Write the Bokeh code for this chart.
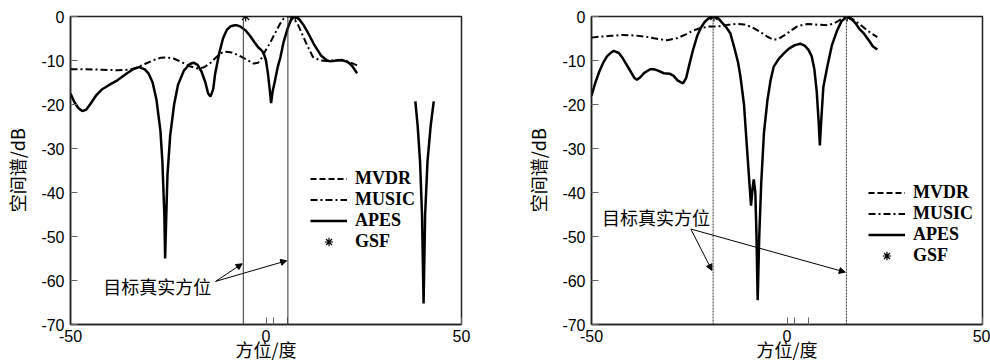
from bokeh.plotting import figure
from bokeh.layouts import row
from bokeh.models import Range1d, FixedTicker, Span, Label, Arrow, NormalHead, Legend, LegendItem
from bokeh.embed import file_html
from bokeh.resources import INLINE

nan = float("nan")

# ---------------- data: left panel ----------------
apes1_x = [-50, -49, -48, -47, -46, -45, -43.5, -42, -40, -38, -36, -34, -32.5, -31, -30, -29, -28, -27,
           -26.5, -26, -25.8, -25.5, -25.2, -24.5, -23.5, -22.5, -21, -19.5, -18.5, -17.5, -16.5, -15.5,
           -14.8, -14.2, -13.5, -13, -12, -11, -10, -9, -8, -7.4, -6.5, -5.2, -4, -3, -2, -1, -0.5, 0,
           0.5, 1.0, 1.3, 1.7, 2.2, 3, 3.7, 4.5, 5.5, 6.5, 7.5, 8.5, 9.5, 10.5, 12.2, 14, 15.6, 16.5,
           18, 19.5, 21, 22, 23.3]
apes1_y = [-17.5, -19.5, -20.8, -21.5, -21.2, -20.0, -18.0, -16.6, -15.5, -14.5, -13.2, -12.0, -11.5, -12.0,
           -13.0, -15.0, -19.0, -26.0, -33, -45, -55, -45, -36, -27, -20, -15.5, -12.3, -10.8, -10.5,
           -11.0, -12.5, -15, -17.5, -18.2, -16.5, -13, -8.5, -5, -3, -2.2, -2.0, -2.0, -2.3, -3.2, -4.5,
           -5.8, -7.0, -7.8, -8.6, -10, -13, -17, -19.7, -17, -15, -11.5, -9.2, -5.8, -2.8, -0.5, 0,
           -0.6, -1.8, -3.3, -6.2, -8.8, -10, -10.2, -10, -9.9, -10.4, -11.2, -12.9]
apes1b_x = [38.2, 38.8, 39.4, 39.9, 40.3, 40.7, 41.3, 42.1, 42.9]
apes1b_y = [-19.3, -25, -33, -45, -65.2, -45, -33, -25, -19.3]

music1_x = [-50, -46, -42, -38, -35, -33, -31, -29, -27, -25.3, -23.5, -21.5, -19.5, -17.6, -16, -14.5,
            -13, -11.8, -10.8, -9.1, -7, -5, -3.1, -2, -1, -0.1, 1.1, 2.5, 3.5, 4.5, 5.5, 6.3, 7,
            8, 9, 10.5, 12, 13.9, 15.5, 17, 18.5, 20, 21.5, 23.3]
music1_y = [-12, -12, -12.1, -12.2, -12.1, -11.6, -10.8, -10.0, -9.4, -9.3, -9.6, -10.4, -11.3, -11.8,
            -11.6, -10.8, -9.5, -8.5, -8.0, -8.1, -8.8, -9.8, -10.7, -10.5, -9.3, -7.7, -5.9, -3.5,
            -1.8, -0.5, 0, 0, -0.4, -1.5, -3.5, -6.5, -9.2, -10.0, -10.1, -10.0, -9.9, -10.0, -10.4, -11.1]

# MVDR is listed in the legend but its curve is not visible in the figure
mvdr1_x = [nan]
mvdr1_y = [nan]

gsf1_x = [-5.2, 7.5]
gsf1_y = [0, 0]
true1 = [-5.8, 5.6]

# ---------------- data: right panel ----------------
apes2_x = [-50, -49, -48, -47, -46, -45, -44.3, -43, -42, -41, -40, -39, -38.4, -37.5, -36.5, -35, -34,
           -33, -31.5, -30, -29, -28, -26.6, -25.8, -25, -24, -23, -22, -21, -20, -18.7, -17.5, -16.5,
           -15.5, -14.5, -13.5, -12.5, -11.9, -11, -10.2, -9.6, -9.2, -8.8, -8.5, -8.1, -7.8, -7.5,
           -7.1, -6.6, -5.9, -5, -4.2, -3.4, -2, -0.8, 0.5, 2, 3.4, 4.5, 5.5, 6.3, 7, 7.6, 8.1, 8.4,
           8.8, 9.3, 10.3, 11.5, 12.8, 14, 15.4, 16.5, 17.5, 18.5, 19.7, 21, 22, 23.1]
apes2_y = [-18, -15, -12.5, -10.5, -9, -8.2, -7.8, -8.3, -9.5, -11, -12.5, -14, -14.4, -13.8, -12.8, -12,
           -12, -12.3, -12.9, -13, -13.5, -14.5, -15.2, -14, -11, -7.5, -4.5, -2.5, -1.2, -0.4, 0,
           -0.5, -1.5, -2.5, -3.8, -7, -10.5, -13.7, -20, -30.3, -38, -43, -39, -37, -40, -50, -64.5,
           -50, -38, -26.5, -19, -14.5, -11.4, -9.5, -8.4, -7.3, -6.5, -6.2, -6.6, -7.6, -9, -12, -17,
           -24, -29.3, -23, -16, -11.4, -6.5, -3.2, -1.0, 0, -0.6, -1.5, -2.8, -3.9, -5.5, -6.8, -7.5]

music2_x = [-50, -48, -45, -42, -39, -36, -33, -30.6, -28, -26, -24, -22, -20, -18.7, -17, -15, -13, -11,
            -9, -7, -5, -3.4, -2, -0.5, 1, 2.5, 4, 5.2, 7, 8.5, 10.3, 12, 13.5, 15.4, 17, 18.5, 20,
            21.5, 23.1]
music2_y = [-4.8, -4.6, -4.4, -4.2, -4.3, -4.6, -5.1, -5.4, -4.9, -4.1, -3.2, -2.6, -2.3, -2.3, -2.2,
            -1.9, -1.7, -1.8, -2.4, -3.4, -4.6, -5.3, -5.0, -4.2, -3.2, -2.3, -1.9, -1.7, -1.8, -1.9,
            -2.0, -1.6, -0.8, 0, -0.7, -1.7, -2.8, -3.8, -4.7]

mvdr2_x = [nan]
mvdr2_y = [nan]

gsf2_x = [-18.7, 15.4]
gsf2_y = [0, 0]
true2 = [-18.9, 15.2]

# ---------------- axes ----------------
x_ticks = [-50, 0, 50]
x_tick_labels = ["-50", "0", "50"]
x_minor = [2, 5.4]
y_ticks = [-70, -60, -50, -40, -30, -20, -10, 0]
y_tick_labels = ["-70", "-60", "-50", "-40", "-30", "-20", "-10", "0"]

series_names = ["MVDR", "MUSIC", "APES", "GSF"]
annot_text = "目标真实方位"

CJK = "Noto Sans CJK SC"
SANS = "Liberation Sans"
SERIF = "Liberation Serif"


def make_fig(width, left, right):
    p = figure(width=width, height=364, output_backend="svg", toolbar_location=None,
               x_range=Range1d(-50, 50), y_range=Range1d(-70, 0),
               min_border_left=left, min_border_right=right, min_border_top=16, min_border_bottom=38)
    p.grid.visible = False
    p.outline_line_color = "#222222"
    p.outline_line_width = 1.5
    p.background_fill_color = "white"
    p.border_fill_color = "white"
    p.xaxis.ticker = FixedTicker(ticks=x_ticks, minor_ticks=x_minor)
    p.xaxis.major_label_overrides = dict(zip(x_ticks, x_tick_labels))
    p.yaxis.ticker = FixedTicker(ticks=y_ticks)
    p.yaxis.major_label_overrides = dict(zip(y_ticks, y_tick_labels))
    for ax in (p.xaxis[0], p.yaxis[0]):
        ax.axis_line_color = "#222222"
        ax.axis_line_width = 1.5
        ax.major_tick_in = 7
        ax.major_tick_out = 0
        ax.major_tick_line_color = "#666666"
        ax.minor_tick_in = 0
        ax.minor_tick_out = 0
        ax.major_label_text_font = SANS
        ax.major_label_text_font_size = "16px"
        ax.major_label_text_color = "black"
        ax.axis_label_text_font = CJK
        ax.axis_label_text_font_size = "18px"
        ax.axis_label_text_font_style = "normal"
        ax.axis_label_text_color = "black"
    p.xaxis.minor_tick_in = 7
    p.xaxis.minor_tick_line_color = "#666666"
    p.xaxis.major_label_standoff = 5
    p.xaxis.axis_label_standoff = -9
    p.yaxis.major_label_standoff = 6
    p.yaxis.axis_label_standoff = 8
    p.xaxis.axis_label = "方位/度"
    p.yaxis.axis_label = "空间谱/dB"
    return p


def add_series(p, apes_parts, music, mvdr, gsf, true_dirs, span_dash, legend_loc):
    mvdr_r = p.line(mvdr[0], mvdr[1], line_color="black", line_width=2, line_dash="6 3")
    music_r = p.line(music[0], music[1], line_color="black", line_width=2, line_dash="7 3 2 3")
    apes_r = None
    for xs, ys in apes_parts:
        r = p.line(xs, ys, line_color="black", line_width=2.5)
        if apes_r is None:
            apes_r = r
    gsf_r = p.scatter(gsf[0], gsf[1], marker="asterisk", size=10, line_color="black", line_width=1.2)
    for t in true_dirs:
        p.add_layout(Span(location=t, dimension="height", line_color="#333333",
                          line_width=1, line_dash=span_dash))
    items = [LegendItem(label=n, renderers=[r]) for n, r in
             zip(series_names, [mvdr_r, music_r, apes_r, gsf_r])]
    leg = Legend(items=items, location=legend_loc, border_line_color=None,
                 background_fill_alpha=0, padding=0, margin=0, spacing=-1,
                 glyph_width=37, glyph_height=21, label_height=21, label_standoff=8,
                 label_text_font=SERIF, label_text_font_size="18px", label_text_font_style="bold",
                 label_text_color="black")
    p.add_layout(leg, "center")


# ---------------- left figure ----------------
p1 = make_fig(495, 70, 34)
add_series(p1, [(apes1_x, apes1_y), (apes1b_x, apes1b_y)], (music1_x, music1_y), (mvdr1_x, mvdr1_y),
           (gsf1_x, gsf1_y), true1, "solid", (240, 72))
p1.add_layout(Label(x=-41.6, y=-61.2, text=annot_text, text_font=CJK, text_font_size="18px",
                    text_baseline="middle", text_color="black"))
for t, ys in zip(true1, [-56.2, -55.5]):
    p1.add_layout(Arrow(x_start=-12.9, y_start=-60.2, x_end=t - 0.3, y_end=ys,
                        line_color="black", line_width=1,
                        end=NormalHead(size=6, fill_color="black", line_color="black")))

# ---------------- right figure ----------------
p2 = make_fig(495, 96, 8)
add_series(p2, [(apes2_x, apes2_y)], (music2_x, music2_y), (mvdr2_x, mvdr2_y),
           (gsf2_x, gsf2_y), true2, "2 1", (277, 58))
p2.add_layout(Label(x=-47.3, y=-45.6, text=annot_text, text_font=CJK, text_font_size="18px",
                    text_baseline="middle", text_color="black"))
for t, ys in zip(true2, [-57.7, -58.1]):
    p2.add_layout(Arrow(x_start=-24.6, y_start=-48.3, x_end=t - 0.3, y_end=ys,
                        line_color="black", line_width=1,
                        end=NormalHead(size=6, fill_color="black", line_color="black")))

layout = row(p1, p2)
open("out.html", "w").write(file_html(layout, INLINE))
